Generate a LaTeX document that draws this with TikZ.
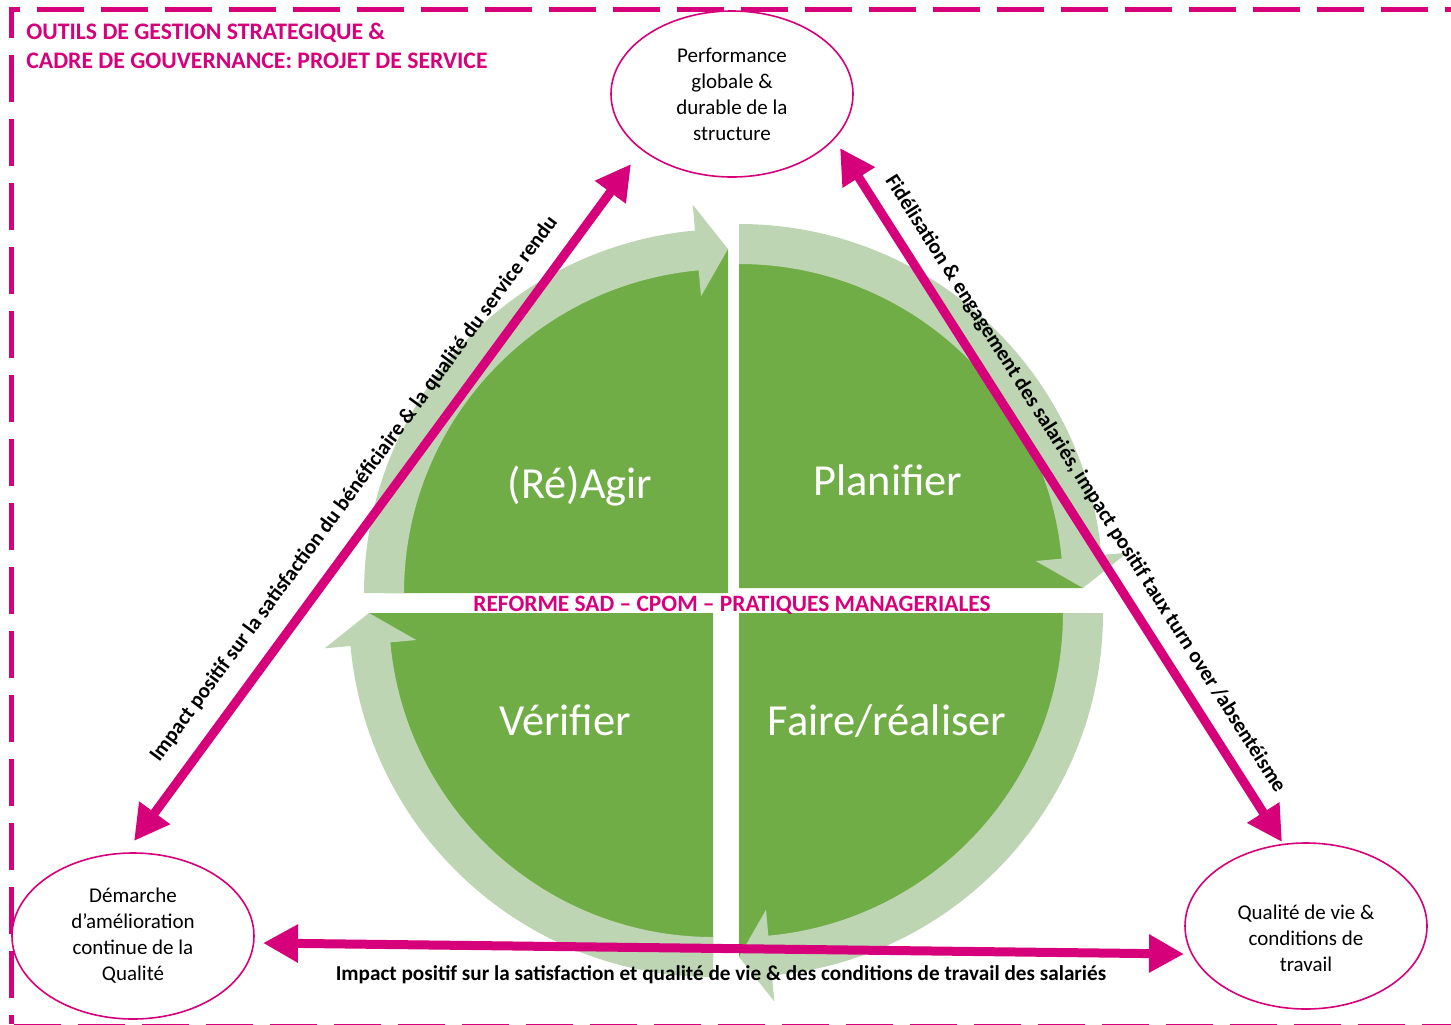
\documentclass[tikz,border=0pt]{standalone}
\usepackage{fontspec}
\setmainfont{Carlito}
\usetikzlibrary{arrows.meta,shapes.geometric}
\definecolor{mypink}{RGB}{213,0,122}
\definecolor{dgreen}{RGB}{112,173,71}
\definecolor{lgreen}{RGB}{189,213,179}
\newcommand{\pdcapart}[2]{%
  \begin{scope}[shift={#1}]
    \fill[dgreen] (0,0) -- (#2:344) arc[start angle=#2, delta angle=90, radius=344] -- cycle;
  \end{scope}}
\newcommand{\pdcaarrow}[2]{%
  \begin{scope}[shift={#1}]
    \fill[lgreen] (#2:364) arc[start angle=#2, delta angle=84.8, radius=364]
      -- ({#2+84.8}:390) -- ({#2+90}:344) -- ({#2+84.8}:298) -- ({#2+84.8}:324)
      arc[start angle={#2+84.8}, delta angle=-84.8, radius=324] -- cycle;
  \end{scope}}
\begin{document}
\begin{tikzpicture}[x=0.5pt,y=-0.5pt,
  ell/.style={ellipse, draw=mypink, line width=0.8pt, fill=white, minimum width=121pt, minimum height=83pt, inner sep=0pt,
              align=center, font=\fontsize{10.5}{13}\selectfont, text=black},
  quad/.style={text=white, font=\fontsize{22.2}{24}\selectfont, inner sep=0pt},
  link/.style={draw=mypink, line width=4.5pt, {Triangle[length=17.5pt,width=18pt]}-{Triangle[length=17.5pt,width=18pt]}},
  lbl/.style={font=\bfseries\fontsize{10.6}{12}\selectfont, text=black, inner sep=0pt},
  frame/.style={draw=mypink, line width=2.8pt, dash pattern=on 23.5pt off 8.5pt}]
\useasboundingbox (0,0) rectangle (1451,1024);
% frame
\draw[frame, dash phase=18pt] (8.5,9.5) -- (1451,9.5);
\draw[frame, dash phase=8pt] (11.5,6.5) -- (11.5,1024);
\draw[frame, dash phase=30.75pt] (11.5,1026.8) -- (1451,1026.8);
% title
\node[anchor=north west, inner sep=0pt, align=left, text=mypink, font=\bfseries\fontsize{11.85}{14.2}\selectfont] (title) at (26,23)
  {OUTILS DE GESTION STRATEGIQUE \&\\CADRE DE GOUVERNANCE: PROJET DE SERVICE};
% PDCA quadrants
\pdcapart{(728,593)}{180}
\pdcapart{(739,588)}{270}
\pdcapart{(739,613)}{0}
\pdcapart{(713,613)}{90}
\pdcaarrow{(728,593)}{180}
\pdcaarrow{(739,588)}{270}
\pdcaarrow{(739,613)}{0}
\pdcaarrow{(713,613)}{90}
\node[quad] (agir) at (580,486) {(Ré)Agir};
\node[quad] (plan) at (888,480) {Planifier};
\node[quad] (verif) at (565,720) {Vérifier};
\node[quad] (faire) at (887,721) {Faire/réaliser};
\node[font=\bfseries\fontsize{11.7}{13}\selectfont, text=mypink, inner sep=0pt] (reforme) at (732,605) {REFORME SAD – CPOM – PRATIQUES MANAGERIALES};
% ellipses
\node[ell] (perf) at (732,94) {Performance\\globale \&\\durable de la\\structure};
\node[ell] (dem) at (133,936) {Démarche\\d’amélioration\\continue de la\\Qualité};
\node[ell] (qual) at (1306,926) {};
\node[align=center, font=\fontsize{10.5}{13}\selectfont, inner sep=0pt] (qualtext) at ([yshift=-6pt]qual.center) {Qualité de vie \&\\conditions de\\travail};
% links
\coordinate (l1) at (134,841);
\coordinate (l2) at (631,164);
\coordinate (r1) at (840,148);
\coordinate (r2) at (1282,842);
\coordinate (b1) at (263,943);
\coordinate (b2) at (1184,954);
\draw[link] (l1) -- (l2);
\draw[link] (r1) -- (r2);
\draw[link] (b1) -- (b2);
% labels
\node[lbl, rotate=53.6] (lblL) at (354,489) {Impact positif sur la satisfaction du bénéficiaire \& la qualité du service rendu};
\node[lbl, rotate=-57.5] (lblR) at (1085,484) {Fidélisation \& engagement des salariés, impact positif taux turn over /absentéisme};
\node[lbl] (lblB) at (721,975) {Impact positif sur la satisfaction et qualité de vie \& des conditions de travail des salariés};
\end{tikzpicture}
\end{document}
